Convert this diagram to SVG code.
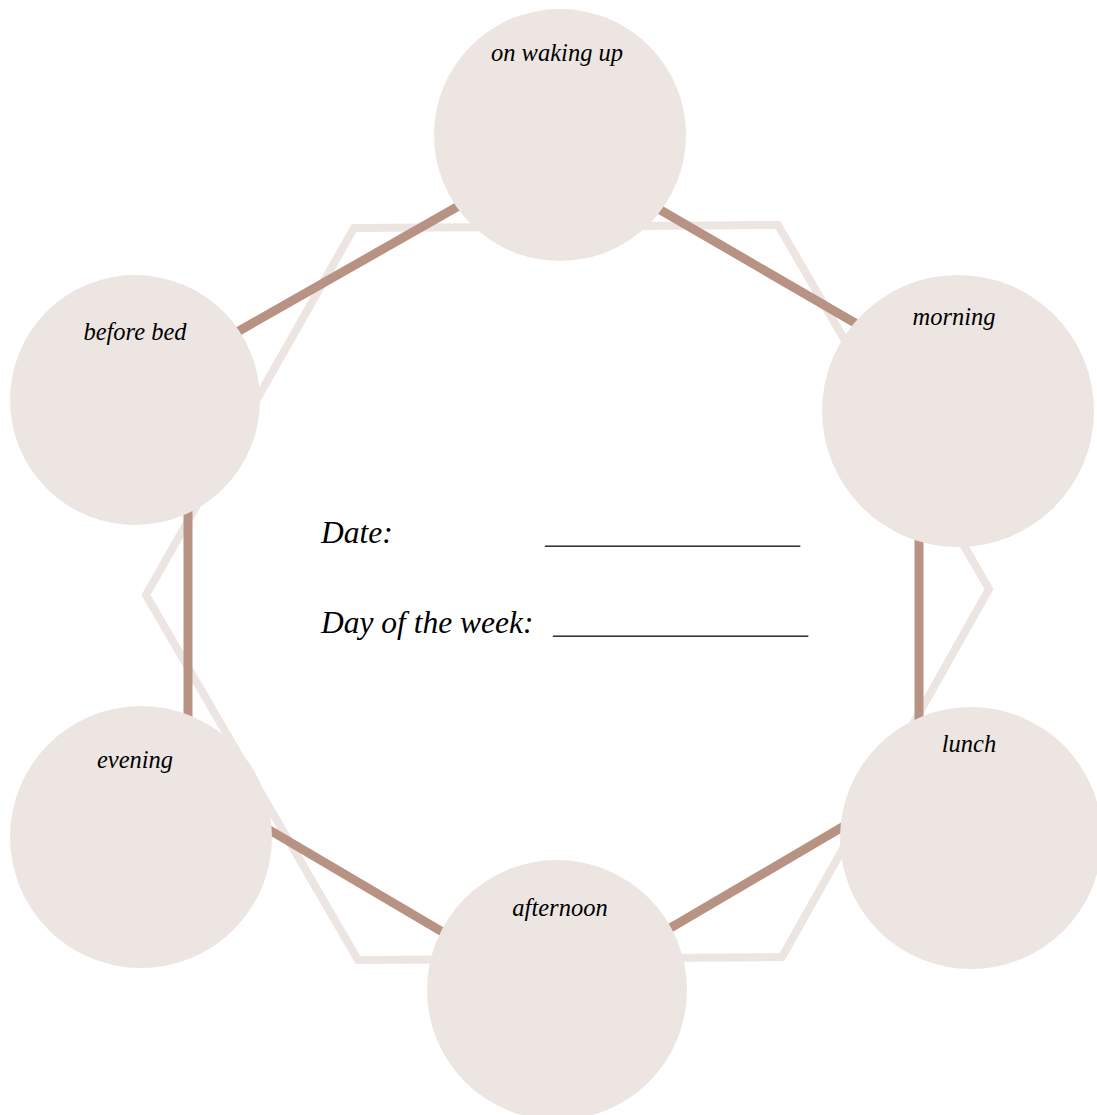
<svg xmlns="http://www.w3.org/2000/svg" width="1097" height="1115" viewBox="0 0 1097 1115">
<style>
.bg{fill:#ffffff}
.light{fill:none;stroke:#ECE5E2;stroke-width:8;stroke-linejoin:miter}
.dark{fill:none;stroke:#B89384;stroke-width:9}
.node{fill:#ECE5E2}
.lbl{font-family:"Liberation Serif","DejaVu Serif",serif;font-style:italic;font-size:24.5px;fill:#000;text-anchor:middle}
.big{font-family:"Liberation Serif","DejaVu Serif",serif;font-style:italic;font-size:31.5px;fill:#000}
.line{fill:#333}
</style>
<rect class="bg" x="0" y="0" width="1097" height="1115"/>
<g id="connectors">
<polygon class="light" points="354,228 778,225 989,589 782,957 358,960 146,595"/>
<polygon class="dark" points="557,150 919,360 919,782 553,997 188,782 188,360"/>
</g>
<g id="node-waking"><circle class="node" cx="560" cy="135" r="126"/><text class="lbl" x="557" y="61">on waking up</text></g>
<g id="node-morning"><circle class="node" cx="958" cy="411" r="136"/><text class="lbl" x="954" y="325">morning</text></g>
<g id="node-lunch"><circle class="node" cx="971" cy="838" r="131"/><text class="lbl" x="969" y="752">lunch</text></g>
<g id="node-afternoon"><circle class="node" cx="557" cy="990" r="130"/><text class="lbl" x="560" y="916">afternoon</text></g>
<g id="node-evening"><circle class="node" cx="141" cy="837" r="131"/><text class="lbl" x="135" y="768">evening</text></g>
<g id="node-beforebed"><circle class="node" cx="135" cy="400" r="125"/><text class="lbl" x="135" y="340">before bed</text></g>
<g id="center-text">
<text class="big" x="321" y="543">Date:</text>
<text class="big line" x="545" y="543" textLength="255" lengthAdjust="spacingAndGlyphs">_________________</text>
<text class="big" x="321" y="633">Day of the week:</text>
<text class="big line" x="553" y="633" textLength="255" lengthAdjust="spacingAndGlyphs">_________________</text>
</g>
</svg>
